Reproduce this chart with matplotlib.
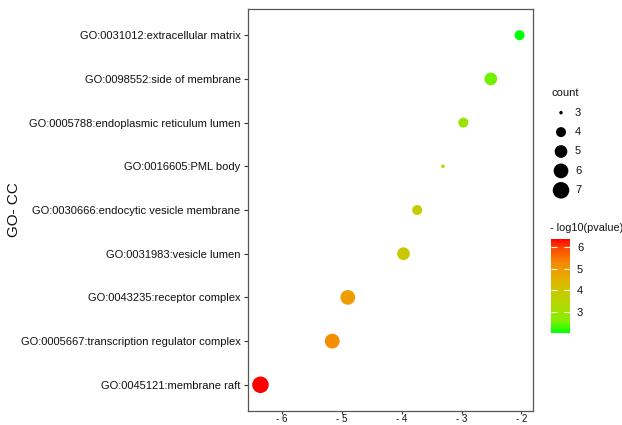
import numpy as np
import matplotlib.pyplot as plt
from matplotlib.colors import LinearSegmentedColormap, Normalize
from matplotlib.ticker import FuncFormatter

plt.rcParams['font.family'] = ['Liberation Sans', 'DejaVu Sans']

# GO cellular component terms, top to bottom
terms = [
    "GO:0031012:extracellular matrix",
    "GO:0098552:side of membrane",
    "GO:0005788:endoplasmic reticulum lumen",
    "GO:0016605:PML body",
    "GO:0030666:endocytic vesicle membrane",
    "GO:0031983:vesicle lumen",
    "GO:0043235:receptor complex",
    "GO:0005667:transcription regulator complex",
    "GO:0045121:membrane raft",
]
log_p = [-2.03, -2.51, -2.97, -3.31, -3.74, -3.97, -4.90, -5.16, -6.36]
counts = [4, 5, 4, 3, 4, 5, 6, 6, 7]
legend_counts = [3, 4, 5, 6, 7]
cbar_ticks = [3, 4, 5, 6]

neg_log_p = [-v for v in log_p]

# green -> red gradient, close to ggplot's lab interpolation
cmap = LinearSegmentedColormap.from_list("gr", [
    (0.0, "#00ff00"), (0.12, "#7cf000"), (0.25, "#a6e000"),
    (0.45, "#ccc800"), (0.62, "#eaa600"), (0.75, "#f58800"),
    (0.9, "#ff4a00"), (1.0, "#ff0000")])
norm = Normalize(min(neg_log_p), max(neg_log_p))

def size_of(c):
    # ggplot scale_size: area scaled, range 1..6, plus point stroke
    lo, hi = min(legend_counts), max(legend_counts)
    d = 1 + 5 * np.sqrt((np.asarray(c, float) - lo) / (hi - lo))
    d_px = (d * 2.845 + 0.945) * 16.5 / 18.0
    return (d_px * 0.72) ** 2

fig = plt.figure(figsize=(6.22, 4.25), dpi=100)
ax = fig.add_axes([247.5 / 622, 1 - 411 / 425, 285 / 622, 402 / 425])

ypos = np.arange(len(terms))[::-1] + 1
ax.scatter(log_p, ypos, s=size_of(counts), c=neg_log_p, cmap=cmap, norm=norm,
           linewidths=0, zorder=3)

ax.set_ylim(0.4, len(terms) + 0.6)
rng = max(log_p) - min(log_p)
ax.set_xlim(min(log_p) - 0.05 * rng, max(log_p) + 0.05 * rng)
ax.set_yticks(ypos)
ax.set_yticklabels(terms)
ax.set_xticks([-6, -5, -4, -3, -2])
ax.xaxis.set_major_formatter(FuncFormatter(lambda v, p: f"- {abs(int(round(v)))}"))
ax.tick_params(labelsize=8, colors="#333333", length=3, width=0.8, pad=2)
ax.tick_params(axis='x', pad=0, labelsize=7, length=2.5)
ax.tick_params(axis='both', labelcolor="#111111")
for sp in ax.spines.values():
    sp.set_color("#555555")
    sp.set_linewidth(0.9)
ax.set_ylabel("GO- CC", fontsize=11, color="#111111")
ax.yaxis.set_label_coords(-(247.5 - 14) / 285, 0.5)
ax.yaxis.label.set_va("center")

# size legend
fig.text(551 / 622, 1 - 93 / 425, "count", fontsize=8, va="center", color="#111111")
lax = fig.add_axes([548 / 622, 1 - 200 / 425, 40 / 622, 97 / 425])
lax.set_xlim(0, 40)
lax.set_ylim(7.5, 2.5)
lax.scatter([13] * len(legend_counts), legend_counts, s=size_of(legend_counts),
            c="black", linewidths=0)
for c in legend_counts:
    lax.text(27, c, str(c), fontsize=8, va="center", color="#111111")
lax.axis("off")

# colour bar
fig.text(550 / 622, 1 - 228 / 425, "- log10(pvalue)", fontsize=7.8, va="center",
         color="#111111")
cax = fig.add_axes([551 / 622, 1 - 333 / 425, 19 / 622, 94 / 425])
cb = fig.colorbar(plt.cm.ScalarMappable(norm=norm, cmap=cmap), cax=cax)
cb.outline.set_visible(False)
cb.set_ticks(cbar_ticks)
cax.tick_params(labelsize=8, length=4, width=0.8, color="white", direction="in",
                labelcolor="#111111", pad=5, left=True)

fig.savefig("out.png", dpi=100)
